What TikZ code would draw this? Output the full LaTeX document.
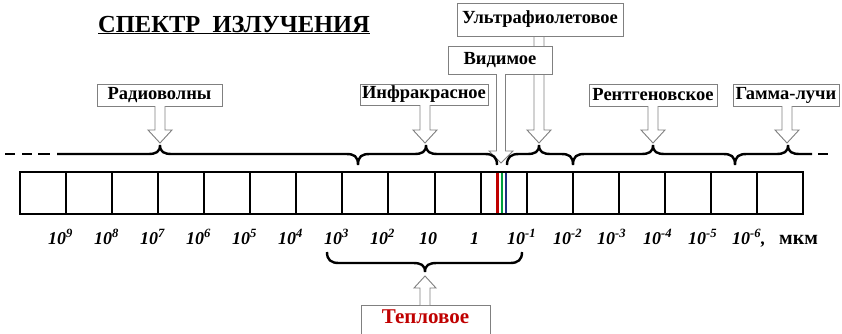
\documentclass[tikz,border=0pt]{standalone}
\usepackage{fontspec}
\setmainfont{Liberation Serif}
\definecolor{tred}{HTML}{C00000}
\definecolor{vred}{HTML}{C00000}
\definecolor{vgreen}{HTML}{00A040}
\definecolor{vblue}{HTML}{1F2F80}
\newcommand\hdown[3]{%
  \filldraw[arr] (#1-5,#2) -- (#1-5,#3-13) -- (#1-12,#3-13) -- (#1,#3) -- (#1+12,#3-13) -- (#1+5,#3-13) -- (#1+5,#2);}
\begin{document}
\begin{tikzpicture}[x=1pt,y=-1pt,
  box/.style={draw=black!50, line width=0.9pt, fill=white, inner sep=0pt,
    font=\fontsize{18.5}{20}\selectfont\bfseries},
  arr/.style={draw=black!50, fill=white, line width=0.9pt, line join=miter},
  brace/.style={line width=2.4pt},
  num/.style={inner sep=0pt, anchor=base west, font=\fontsize{18}{20}\selectfont\bfseries\itshape},
  strip/.style={line width=2.4pt},
  cell/.style={line width=2pt}]
\clip (0,0) rectangle (842,333);
\fill[white] (0,0) rectangle (842,333);
% title
\node[inner sep=0pt, anchor=base west, font=\fontsize{24.5}{28}\selectfont\bfseries] (title) at (98,32) {\underline{СПЕКТР\ \ ИЗЛУЧЕНИЯ}};
% arrows behind boxes
\hdown{539}{36}{143}
% boxes
\node[box, minimum width=166, minimum height=33] (uv) at (540,19.5) {Ультрафиолетовое};
\node[box, minimum width=104, minimum height=28] (vis) at (500,60) {Видимое};
\node[box, minimum width=125, minimum height=22] (radio) at (159.5,95) {Радиоволны};
\node[box, minimum width=128, minimum height=21] (ir) at (424,94.5) {Инфракрасное};
\node[box, minimum width=128, minimum height=22] (xray) at (653,95) {Рентгеновское};
\node[box, minimum width=106, minimum height=22] (gamma) at (786,95) {Гамма-лучи};
% arrows
\filldraw[arr] (496.5,74) -- (496.5,151) -- (489,151) -- (501,163) -- (513,151) -- (505.5,151) -- (505.5,74);
\hdown{160}{106}{143}
\hdown{425}{105}{143}
\hdown{653}{106}{143}
\hdown{787}{106}{143}
% top braces
\draw[brace] (5,154) -- (15,154) (22,154) -- (32,154) (38,154) -- (50,154);
\draw[brace] (57,154) -- (148,154) .. controls (156,154) and (160,152) .. (160,145)
  .. controls (160,152) and (164,154) .. (172,154) -- (346,154)
  .. controls (354,154) and (358,156) .. (358,165)
  .. controls (358,156) and (362,154) .. (370,154) -- (414,154)
  .. controls (422,154) and (426,152) .. (426,145)
  .. controls (426,152) and (430,154) .. (438,154) -- (485,154)
  .. controls (493,154) and (497,157) .. (497,165);
\draw[brace] (507,165) .. controls (507,157) and (511,154) .. (519,154) -- (527,154)
  .. controls (535,154) and (539,152) .. (539,145)
  .. controls (539,152) and (543,154) .. (551,154) -- (561,154)
  .. controls (569,154) and (573,156) .. (573,165)
  .. controls (573,156) and (577,154) .. (585,154) -- (641,154)
  .. controls (649,154) and (653,152) .. (653,145)
  .. controls (653,152) and (657,154) .. (665,154) -- (723,154)
  .. controls (731,154) and (735,156) .. (735,165)
  .. controls (735,156) and (739,154) .. (747,154) -- (776,154)
  .. controls (784,154) and (788,152) .. (788,145)
  .. controls (788,152) and (792,154) .. (800,154) -- (812,154);
\draw[brace] (818,154) -- (828,154);
% strip
\foreach \i in {1,...,16} \draw[cell] (20+\i*46.06,172) -- (20+\i*46.06,214);
\draw[vred, line width=2.6pt] (497.5,173) -- (497.5,213);
\draw[vgreen, line width=2.6pt] (502,173) -- (502,213);
\draw[vblue, line width=2.6pt] (506,173) -- (506,213);
\draw[strip] (20,172) rectangle (803,214);
% labels
\node[num] (l9) at (48,244) {10\textsuperscript{9}};
\node[num] (l8) at (94,244) {10\textsuperscript{8}};
\node[num] (l7) at (140,244) {10\textsuperscript{7}};
\node[num] (l6) at (186,244) {10\textsuperscript{6}};
\node[num] (l5) at (232,244) {10\textsuperscript{5}};
\node[num] (l4) at (278,244) {10\textsuperscript{4}};
\node[num] (l3) at (324,244) {10\textsuperscript{3}};
\node[num] (l2) at (370,244) {10\textsuperscript{2}};
\node[num] (l1) at (419,244) {10};
\node[num] (l0) at (470,244) {1};
\node[num] (m1) at (507,244) {10\textsuperscript{-1}};
\node[num] (m2) at (553,244) {10\textsuperscript{-2}};
\node[num] (m3) at (597,244) {10\textsuperscript{-3}};
\node[num] (m4) at (643,244) {10\textsuperscript{-4}};
\node[num] (m5) at (688,244) {10\textsuperscript{-5}};
\node[num] (m6) at (732,244) {10\textsuperscript{-6},};
\node[num, font=\fontsize{20}{22}\selectfont\bfseries] (unit) at (779,244) {мкм};
% bottom brace
\draw[brace] (327,252) .. controls (327,260) and (331,263) .. (339,263) -- (413,263)
  .. controls (421,263) and (425,265) .. (425,272)
  .. controls (425,265) and (429,263) .. (437,263) -- (510,263)
  .. controls (518,263) and (522,260) .. (522,252);
% heat box
\draw[draw=black!50, line width=0.9pt] (361,340) |- (490,305) -- (490,340);
\node[inner sep=0pt, font=\fontsize{21}{24}\selectfont\bfseries, text=tred] (heat) at (425.5,317) {Тепловое};
\filldraw[arr] (420,305) -- (420,288) -- (414,288) -- (425,276) -- (436,288) -- (430,288) -- (430,305);
\end{tikzpicture}
\end{document}
